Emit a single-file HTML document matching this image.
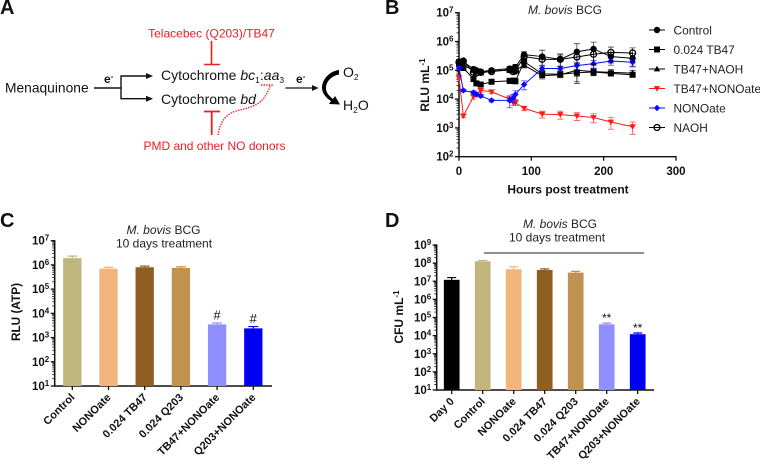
<!DOCTYPE html>
<html>
<head>
<meta charset="utf-8">
<style>
html,body{margin:0;padding:0;background:#fff;width:760px;height:462px;overflow:hidden}
svg{display:block;filter:blur(0.3px);font-family:"Liberation Sans",sans-serif}
</style>
</head>
<body>
<svg id="fig" xmlns="http://www.w3.org/2000/svg" width="760" height="462" viewBox="0 0 760 462">
  <g font-weight="bold" font-size="20" fill="#111">
    <text x="0" y="14">A</text>
    <text x="385" y="14">B</text>
    <text x="0" y="227">C</text>
    <text x="385" y="227">D</text>
  </g>

  <g>
    <text x="211.500" y="37.500" text-anchor="middle" font-size="12" fill="#f01c24">Telacebec (Q203)/TB47</text>
    <path d="M211.500 41V64M204 64.500H220" stroke="#f01c24" stroke-width="1.600" fill="none"/>
    <text x="5" y="92.500" font-size="13.800" fill="#111">Menaquinone</text>
    <text x="104" y="83" font-size="12" font-weight="bold" fill="#111">e<tspan dy="-4" font-size="8">-</tspan></text>
    <path d="M94 88H121M121 76V99M120.300 76H147M120.300 98.700H147" stroke="#111" stroke-width="1.400" fill="none"/>
    <polygon points="153,76 146,73 146,79" fill="#111"/>
    <polygon points="153,98.700 146,95.700 146,101.700" fill="#111"/>
    <text x="161" y="80" font-size="14" fill="#111">Cytochrome <tspan font-style="italic">bc</tspan><tspan font-size="8.500" dy="3">1</tspan><tspan dy="-3">:</tspan><tspan font-style="italic">aa</tspan><tspan font-size="8.500" dy="3">3</tspan></text>
    <text x="161" y="104" font-size="14" fill="#111">Cytochrome <tspan font-style="italic">bd</tspan></text>
    <text x="296" y="83" font-size="12" font-weight="bold" fill="#111">e<tspan dy="-4" font-size="8">-</tspan></text>
    <path d="M285.500 88H313" stroke="#111" stroke-width="1.300" fill="none"/>
    <polygon points="318.500,88 312,85 312,91" fill="#111"/>
    <path d="M339 70C330 71 322 79 322 88C322 93 326 98 331 101L329 104L340 104.500L335 96L333 99C328 95 326 92 326 88C326 82 331 76 339 74.500Z" fill="#000"/>
    <text x="343" y="77" font-size="14" fill="#111">O<tspan font-size="8.500" dy="3">2</tspan></text>
    <text x="343" y="110" font-size="14" fill="#111">H<tspan font-size="8.500" dy="3">2</tspan><tspan dy="-3">O</tspan></text>
    <path d="M211.700 135V111.500M204 111.500H220" stroke="#f01c24" stroke-width="1.800" fill="none"/>
    <path d="M218 135C220 122 226 114 236 111C248 108 258 106 264 98C267 93 269 90 270 86M261 85H274" stroke="#f01c24" stroke-width="1.400" stroke-dasharray="1.400 1.200" fill="none"/>
    <text x="214.500" y="150" text-anchor="middle" font-size="12" fill="#f01c24">PMD and other NO donors</text>
  </g>

  <g id="panelB">
    <text x="565" y="14" text-anchor="middle" font-size="12" fill="#222"><tspan font-style="italic">M. bovis</tspan> BCG</text>
    <text x="568" y="193.500" text-anchor="middle" font-size="12" font-weight="bold" fill="#111">Hours post treatment</text>
    <text transform="translate(429,85) rotate(-90)" text-anchor="middle" font-size="12" font-weight="bold" fill="#111">RLU mL<tspan dy="-4" font-size="8">-1</tspan></text>
  </g>

  <g id="panelC">
    <text x="163.500" y="234" text-anchor="middle" font-size="12" fill="#222"><tspan font-style="italic">M. bovis</tspan> BCG</text>
    <text x="164" y="247.500" text-anchor="middle" font-size="12" fill="#222">10 days treatment</text>
    <text transform="translate(20,312) rotate(-90)" text-anchor="middle" font-size="11.800" font-weight="bold" fill="#111">RLU (ATP)</text>
  </g>

  <g id="panelD">
    <text x="560" y="228" text-anchor="middle" font-size="12" fill="#222"><tspan font-style="italic">M. bovis</tspan> BCG</text>
    <text x="557" y="241.500" text-anchor="middle" font-size="12" fill="#222">10 days treatment</text>
    <path d="M484 253H644" stroke="#222" stroke-width="1.100" fill="none"/>
    <text transform="translate(403,317) rotate(-90)" text-anchor="middle" font-size="12" font-weight="bold" fill="#111">CFU mL<tspan dy="-4" font-size="8">-1</tspan></text>
  </g>
</svg>

<script>
// ---- Panel B data ----
const hours = [0, 6, 20, 24, 30, 45, 70, 75, 78, 90, 115, 140, 163, 186, 210, 240];
const xTicksB = [0, 100, 200, 300];
const yExpsB = [2, 3, 4, 5, 6, 7];
const seriesNames = ['Control', '0.024 TB47', 'TB47+NAOH', 'TB47+NONOate', 'NONOate', 'NAOH'];
const controlValues = [200000, 200000, 110000, 100000, 90000, 100000, 115000, 115000, 130000, 350000, 300000, 240000, 440000, 550000, 300000, 260000];
const controlErrors = [40000, 40000, 20000, 15000, 15000, 15000, 20000, 20000, 30000, 90000, 200000, 130000, 400000, 400000, 120000, 120000];
const tb47Values = [170000, 120000, 50000, 35000, 32000, 40000, 43000, 44000, 42000, 200000, 75000, 73000, 82000, 87000, 78000, 70000];
const tb47Errors = [30000, 20000, 10000, 6000, 5000, 5000, 8000, 8000, 8000, 50000, 18000, 15000, 20000, 20000, 15000, 12000];
const tb47NaohValues = [200000, 150000, 100000, 90000, 80000, 95000, 100000, 100000, 100000, 150000, 65000, 70000, 100000, 90000, 85000, 80000];
const tb47NaohErrors = [30000, 25000, 15000, 12000, 10000, 12000, 15000, 15000, 15000, 30000, 15000, 15000, 65000, 25000, 20000, 20000];
const tb47NonoValues = [55000, 2600, 12000, 14500, 20000, 18000, 10000, 7500, 7500, 4800, 3000, 2900, 2600, 2300, 1600, 1100];
const tb47NonoErrors = [8000, 300, 2000, 2000, 3000, 2500, 2000, 1500, 1500, 800, 800, 900, 800, 800, 700, 500];
const nonoValues = [120000, 20000, 17000, 14500, 13000, 9000, 9000, 11000, 14500, 32000, 115000, 115000, 145000, 170000, 210000, 190000];
const nonoErrors = [15000, 2000, 2000, 1500, 1500, 1000, 4000, 3500, 5000, 11000, 25000, 20000, 40000, 50000, 60000, 60000];
const naohValues = [190000, 210000, 85000, 80000, 85000, 90000, 105000, 90000, 95000, 300000, 240000, 240000, 290000, 360000, 420000, 400000];
const naohErrors = [30000, 30000, 15000, 12000, 12000, 12000, 20000, 15000, 15000, 70000, 90000, 100000, 120000, 200000, 220000, 200000];

// ---- Panel C data ----
const categoriesC = ['Control', 'NONOate', '0.024 TB47', '0.024 Q203', 'TB47+NONOate', 'Q203+NONOate'];
const valuesC = [1900000, 700000, 800000, 750000, 3500, 2400];
const errorsC = [400000, 100000, 90000, 90000, 500, 450];
const marksC = ['', '', '', '', '#', '#'];
const yExpsC = [1, 2, 3, 4, 5, 6, 7];

// ---- Panel D data ----
const categoriesD = ['Day 0', 'Control', 'NONOate', '0.024 TB47', '0.024 Q203', 'TB47+NONOate', 'Q203+NONOate'];
const valuesD = [12000000, 125000000, 46000000, 42000000, 30000000, 42000, 12000];
const errorsD = [4000000, 15000000, 17000000, 6000000, 5000000, 7000, 2000];
const marksD = ['', '', '', '', '', '**', '**'];
const yExpsD = [1, 2, 3, 4, 5, 6, 7, 8, 9];

const NS = 'http://www.w3.org/2000/svg';
const ink = '#111';
const barColorMap = {
  'Day 0': '#000000', 'Control': '#bfb57d', 'NONOate': '#f2b57c', '0.024 TB47': '#8f5f22',
  '0.024 Q203': '#c09250', 'TB47+NONOate': '#8f8fff', 'Q203+NONOate': '#0000f5'
};

function mk(parent, tag, attrs, text) {
  const el = document.createElementNS(NS, tag);
  for (const k in attrs) el.setAttribute(k, attrs[k]);
  if (text !== undefined) el.textContent = text;
  parent.appendChild(el);
  return el;
}

function logScale(minExp, maxExp, yBottom, yTop) {
  return v => yBottom - (Math.log10(v) - minExp) / (maxExp - minExp) * (yBottom - yTop);
}

function drawYAxis(g, prefix, axisX, y, exps, minor) {
  const top = y(Math.pow(10, exps[exps.length - 1]));
  const bottom = y(Math.pow(10, exps[0]));
  const axis = mk(g, 'line', {x1: axisX, x2: axisX, y1: top - 0.6, y2: bottom + 0.6, stroke: ink, 'stroke-width': 1.5});
  
  
  exps.forEach((e, i) => {
    const py = y(Math.pow(10, e));
    const tick = mk(g, 'line', {x1: axisX - 4, x2: axisX, y1: py, y2: py, stroke: ink, 'stroke-width': 1.3});
    
    
    const label = mk(g, 'text', {x: axisX - 5.5, y: py + 4, 'text-anchor': 'end', 'font-size': 11.5, 'font-weight': 'bold', fill: ink});
    
    
    const base = mk(label, 'tspan', {}, '10');
    const sup = mk(label, 'tspan', {dy: -4, 'font-size': 8}, String(e));
    if (minor && i < exps.length - 1) {
      for (let m = 2; m < 10; m++) {
        const my = y(m * Math.pow(10, e));
        const mt = mk(g, 'line', {x1: axisX - 2.5, x2: axisX, y1: my, y2: my, stroke: ink, 'stroke-width': 0.8});
        
        
      }
    }
  });
}

// ---- Panel B ----
(function () {
  const g = document.getElementById('panelB');
  const x = v => 459 + v * 0.7233;
  const y = logScale(2, 7, 156.7, 12.7);
  const seriesData = [controlValues, tb47Values, tb47NaohValues, tb47NonoValues, nonoValues, naohValues];
  const seriesErrors = [controlErrors, tb47Errors, tb47NaohErrors, tb47NonoErrors, nonoErrors, naohErrors];
  const colors = ['#000', '#000', '#000', '#ff1a1a', '#0a0aff', '#000'];
  const shapes = ['circle', 'square', 'up', 'down', 'diamond', 'open'];

  function marker(parent, shape, cx, cy, color, name) {
    let el;
    if (shape === 'circle') el = mk(parent, 'circle', {cx: cx, cy: cy, r: 3.2, fill: color});
    else if (shape === 'open') el = mk(parent, 'circle', {cx: cx, cy: cy, r: 3, fill: 'none', stroke: color, 'stroke-width': 1.3});
    else if (shape === 'square') el = mk(parent, 'rect', {x: cx - 3, y: cy - 3, width: 6, height: 6, fill: color});
    else if (shape === 'up') el = mk(parent, 'polygon', {points: [cx, cy - 3.2, cx + 3.2, cy + 2.4, cx - 3.2, cy + 2.4].join(' '), fill: color});
    else if (shape === 'down') el = mk(parent, 'polygon', {points: [cx - 3.2, cy - 2.4, cx + 3.2, cy - 2.4, cx, cy + 3.2].join(' '), fill: color});
    else el = mk(parent, 'polygon', {points: [cx, cy - 3.2, cx + 3.2, cy, cx, cy + 3.2, cx - 3.2, cy].join(' '), fill: color});
    
    
    return el;
  }

  drawYAxis(g, 'chart-b', x(0), y, yExpsB, true);
  const xAxis = mk(g, 'line', {x1: x(0) - 0.6, x2: x(300) + 0.6, y1: y(100), y2: y(100), stroke: ink, 'stroke-width': 1.4});
  
  
  xTicksB.forEach(t => {
    const tick = mk(g, 'line', {x1: x(t), x2: x(t), y1: y(100), y2: y(100) + 4, stroke: ink, 'stroke-width': 1.3});
    
    
    const label = mk(g, 'text', {x: x(t), y: 175, 'text-anchor': 'middle', 'font-size': 11.5, 'font-weight': 'bold', fill: ink}, String(t));
    
    
  });

  seriesData.forEach((vals, s) => {
    const sg = mk(g, 'g', {});
    
    
    const pts = vals.map((v, i) => x(hours[i]) + ',' + y(v)).join(' ');
    const line = mk(sg, 'polyline', {points: pts, fill: 'none', stroke: colors[s], 'stroke-width': 1});
    
    
    vals.forEach((v, i) => {
      const px = x(hours[i]);
      const hi = y(v + seriesErrors[s][i]);
      const lo = y(Math.max(v - seriesErrors[s][i], 1));
      const d = 'M' + px + ' ' + hi + 'V' + lo + 'M' + (px - 3) + ' ' + hi + 'H' + (px + 3) + 'M' + (px - 3) + ' ' + lo + 'H' + (px + 3);
      const err = mk(sg, 'path', {d: d, fill: 'none', stroke: colors[s], 'stroke-width': 0.8, opacity: 0.75});
      
      
      marker(sg, shapes[s], px, y(v), colors[s], 'data-point');
    });
  });

  seriesNames.forEach((name, i) => {
    const ly = 30 + i * 19.5;
    const entry = mk(g, 'g', {});
    
    
    const ll = mk(entry, 'line', {x1: 649, x2: 665, y1: ly, y2: ly, stroke: colors[i], 'stroke-width': 1});
    
    
    marker(entry, shapes[i], 657, ly, colors[i], 'legend-marker');
    const lt = mk(entry, 'text', {x: 673.5, y: ly + 4.3, 'font-size': 11.9, fill: '#222'}, name);
    
    
  });
})();

// ---- Bar charts ----
function drawBars(g, prefix, opt, categories, values, errors, marks, exps, y) {
  const baseline = y(Math.pow(10, exps[0]));
  drawYAxis(g, prefix, opt.axisX, y, exps, true);
  const xAxis = mk(g, 'line', {x1: opt.axisX - 0.6, x2: opt.axisEnd, y1: baseline, y2: baseline, stroke: ink, 'stroke-width': 1.4});
  
  
  categories.forEach((c, i) => {
    const cx = opt.first + i * opt.step;
    const color = barColorMap[c];
    const topY = y(values[i]);
    const errY = y(values[i] + errors[i]);
    const err = mk(g, 'path', {d: 'M' + cx + ' ' + topY + 'V' + errY + 'M' + (cx - opt.cap) + ' ' + errY + 'H' + (cx + opt.cap), fill: 'none', stroke: color, 'stroke-width': 1.2});
    
    
    const bar = mk(g, 'rect', {x: cx - opt.width / 2, y: topY, width: opt.width, height: baseline - topY, fill: color});
    
    
    const tick = mk(g, 'line', {x1: cx, x2: cx, y1: baseline, y2: baseline + 4, stroke: ink, 'stroke-width': 1.3});
    
    
    const lx = cx + 3, ly = baseline + 12;
    const label = mk(g, 'text', {transform: 'translate(' + lx + ',' + ly + ') rotate(-45)', 'text-anchor': 'end', 'font-size': 11, 'font-weight': 'bold', fill: ink}, c);
    
    
    if (marks[i]) {
      const m = mk(g, 'text', {x: cx, y: errY - opt.markGap, 'text-anchor': 'middle', 'font-size': opt.markSize, fill: ink}, marks[i]);
      
      
    }
  });
}

drawBars(document.getElementById('panelC'), 'chart-c',
  {axisX: 54.7, axisEnd: 272, first: 72.3, step: 36.2, width: 18.3, cap: 5, markGap: 3.5, markSize: 13},
  categoriesC, valuesC, errorsC, marksC, yExpsC, logScale(1, 7, 386, 240.7));

drawBars(document.getElementById('panelD'), 'chart-d',
  {axisX: 436.7, axisEnd: 654, first: 451.7, step: 31, width: 15.7, cap: 4.5, markGap: 1, markSize: 12},
  categoriesD, valuesD, errorsD, marksD, yExpsD, logScale(1, 9, 390, 245));
</script>
</body>
</html>
